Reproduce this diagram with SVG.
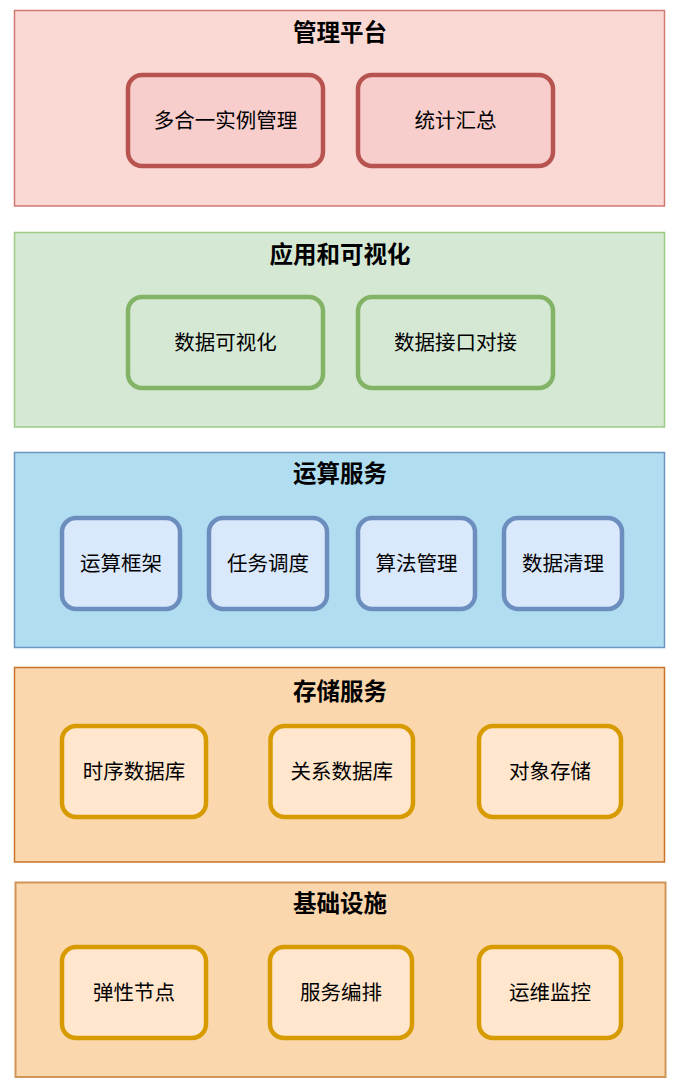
<svg xmlns="http://www.w3.org/2000/svg" width="682" height="1092" viewBox="0 0 682 1092">
<style>
text { font-family: "Noto Sans CJK SC", "Noto Sans", sans-serif; text-anchor: middle; dominant-baseline: central; fill: #000; }
.title { font-size: 23.5px; font-weight: bold; }
.lbl { font-size: 20.5px; }
.box { stroke-width: 4.5; }
.red { fill: #f8cecc; stroke: #b85450; }
.green { fill: #d5e8d4; stroke: #82b366; }
.blue { fill: #dae8fc; stroke: #6c8ebf; }
.orange { fill: #ffe6cc; stroke: #d79b00; }
</style>
<rect width="682" height="1092" fill="#ffffff"/>

<g id="layer-mgmt">
<rect x="14.5" y="10.5" width="650" height="195.5" fill="#fad9d5" stroke="#d27a72" stroke-width="1.5"/>
<text class="title" x="340" y="31">管理平台</text>
</g>
<g id="node-multi">
<rect class="box red" x="128" y="75" width="195" height="91" rx="14"/>
<text class="lbl" x="225.5" y="118.5">多合一实例管理</text>
</g>
<g id="node-stats">
<rect class="box red" x="358" y="75" width="195" height="91" rx="14"/>
<text class="lbl" x="455.5" y="118.5">统计汇总</text>
</g>

<g id="layer-app">
<rect x="14.5" y="232.5" width="650" height="194.5" fill="#d5e8d4" stroke="#9dcc85" stroke-width="1.5"/>
<text class="title" x="340" y="253">应用和可视化</text>
</g>
<g id="node-vis">
<rect class="box green" x="128" y="297" width="195" height="91" rx="14"/>
<text class="lbl" x="225.5" y="340.5">数据可视化</text>
</g>
<g id="node-api">
<rect class="box green" x="358" y="297" width="195" height="91" rx="14"/>
<text class="lbl" x="455.5" y="340.5">数据接口对接</text>
</g>

<g id="layer-compute">
<rect x="14.5" y="452.5" width="650" height="195" fill="#b1ddf0" stroke="#6b96c4" stroke-width="1.5"/>
<text class="title" x="340" y="472">运算服务</text>
</g>
<g id="node-framework">
<rect class="box blue" x="62" y="518" width="118" height="91" rx="14"/>
<text class="lbl" x="121" y="561.5">运算框架</text>
</g>
<g id="node-schedule">
<rect class="box blue" x="209" y="518" width="118" height="91" rx="14"/>
<text class="lbl" x="268" y="561.5">任务调度</text>
</g>
<g id="node-algo">
<rect class="box blue" x="358" y="518" width="117" height="91" rx="14"/>
<text class="lbl" x="416.5" y="561.5">算法管理</text>
</g>
<g id="node-clean">
<rect class="box blue" x="504" y="518" width="118" height="91" rx="14"/>
<text class="lbl" x="563" y="561.5">数据清理</text>
</g>

<g id="layer-storage">
<rect x="14.5" y="667.5" width="650" height="194.5" fill="#fad7ac" stroke="#c8732a" stroke-width="1.5"/>
<text class="title" x="340" y="690">存储服务</text>
</g>
<g id="node-tsdb">
<rect class="box orange" x="62" y="726" width="144" height="91" rx="14"/>
<text class="lbl" x="134" y="769.5">时序数据库</text>
</g>
<g id="node-rdb">
<rect class="box orange" x="270.5" y="726" width="142.5" height="91" rx="14"/>
<text class="lbl" x="341.75" y="769.5">关系数据库</text>
</g>
<g id="node-obj">
<rect class="box orange" x="479" y="726" width="142" height="91" rx="14"/>
<text class="lbl" x="550" y="769.5">对象存储</text>
</g>

<g id="layer-infra">
<rect x="15.5" y="882.5" width="650" height="194.5" fill="#fad7ac" stroke="#d09658" stroke-width="2"/>
<text class="title" x="340" y="902">基础设施</text>
</g>
<g id="node-elastic">
<rect class="box orange" x="62" y="947" width="144" height="91" rx="14"/>
<text class="lbl" x="134" y="990.5">弹性节点</text>
</g>
<g id="node-orch">
<rect class="box orange" x="270" y="947" width="142" height="91" rx="14"/>
<text class="lbl" x="341" y="990.5">服务编排</text>
</g>
<g id="node-ops">
<rect class="box orange" x="479" y="947" width="142" height="91" rx="14"/>
<text class="lbl" x="550" y="990.5">运维监控</text>
</g>

<g id="connectors"></g>
</svg>
